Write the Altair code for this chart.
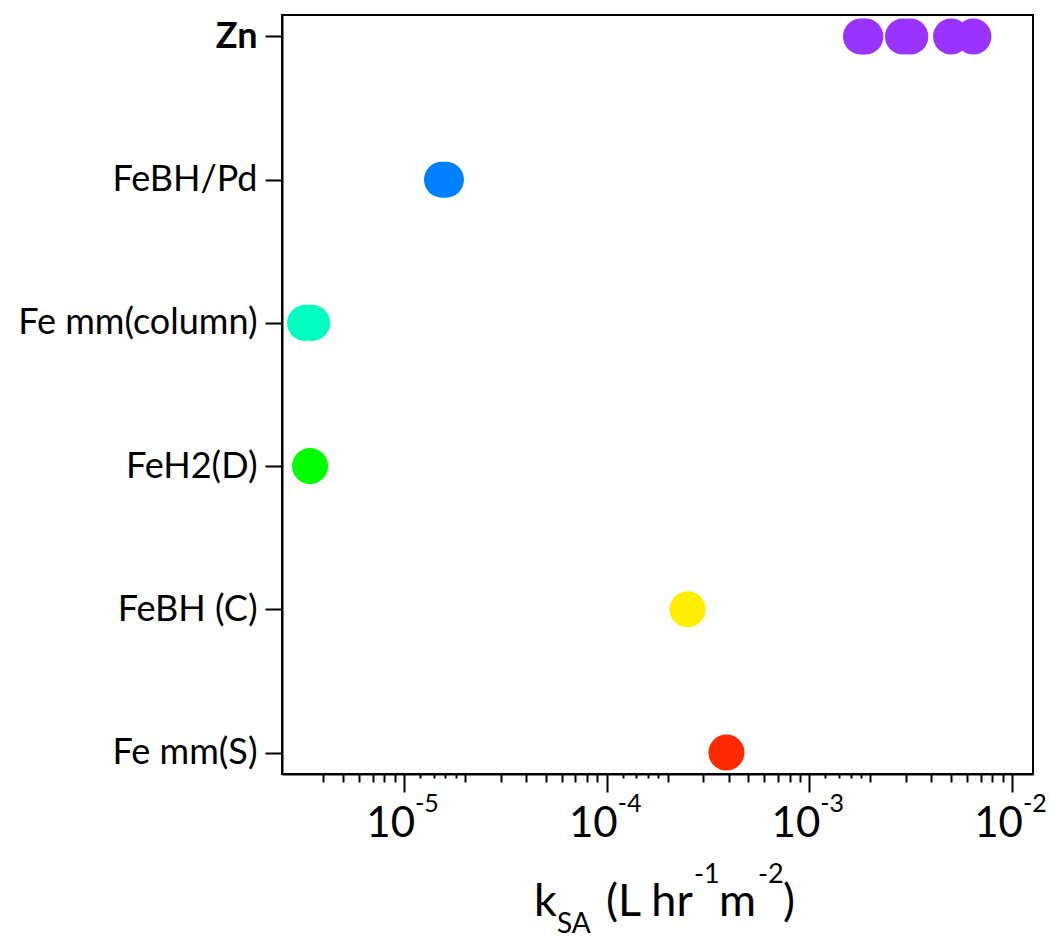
import altair as alt
import pandas as pd

# Materials, top to bottom, and their point colours
categories = ["Zn", "FeBH/Pd", "Fe mm(column)", "FeH2(D)", "FeBH (C)", "Fe mm(S)"]
colors = ["#9933FF", "#0080FF", "#00FFC0", "#00FF00", "#FFEE00", "#FF2A00"]

# Surface-area normalised rate constants k_SA (L hr^-1 m^-2)
zn_k = [1.80e-3, 1.89e-3, 2.90e-3, 3.15e-3, 5.01e-3, 6.45e-3]
febh_pd_k = [1.54e-5, 1.61e-5]
fe_mm_column_k = [3.25e-6, 3.52e-6]
feh2_d_k = [3.44e-6]
febh_c_k = [2.51e-4]
fe_mm_s_k = [3.90e-4]

# Decade tick labels (10^exp)
decades = [1e-5, 1e-4, 1e-3, 1e-2]
exponents = ["-5", "-4", "-3", "-2"]

# Log-axis tick marks: decades, integer multiples, and 1.2-1.8 sub-steps
tick_values = [4e-6, 5e-6, 6e-6, 7e-6, 8e-6, 9e-6]
for base in [1e-5, 1e-4, 1e-3]:
    for m in [1, 1.2, 1.4, 1.6, 1.8, 2, 3, 4, 5, 6, 7, 8, 9]:
        tick_values.append(round(m * base, 12))
tick_values.append(1e-2)

rows = []
for name, vals in zip(categories, [zn_k, febh_pd_k, fe_mm_column_k, feh2_d_k, febh_c_k, fe_mm_s_k]):
    for v in vals:
        rows.append({"material": name, "k": v})
df = pd.DataFrame(rows)

W, H = 751, 759
FONT = "Lato"

major_test = "abs(log(datum.value)/LN10 - round(log(datum.value)/LN10)) < 1e-6"
sub_test = ("abs(datum.value / pow(10, floor(log(datum.value)/LN10 + 1e-6)) - "
            "round(datum.value / pow(10, floor(log(datum.value)/LN10 + 1e-6)))) > 1e-3")

x_enc = alt.X(
    "k:Q",
    scale=alt.Scale(type="log", domain=[2.5e-6, 1.27e-2], nice=False),
    axis=alt.Axis(
        values=tick_values,
        labels=False,
        title=None,
        grid=False,
        domainColor="black",
        domainWidth=2,
        tickColor="black",
        tickWidth=2,
        tickSize={"condition": [{"test": major_test, "value": 18},
                                {"test": sub_test, "value": 4}],
                  "value": 8},
    ),
)

points = alt.Chart(df).mark_circle(size=1300, opacity=1).encode(
    x=x_enc,
    y=alt.Y(
        "material:N",
        sort=categories,
        scale=alt.Scale(type="point", padding=0.15),
        axis=alt.Axis(
            title=None,
            labelFont=FONT,
            labelFontSize=36,
            labelColor="black",
            labelLimit=500,
            labelFontWeight={"condition": {"test": "datum.value === 'Zn'", "value": "bold"},
                             "value": "normal"},
            labelPadding=8,
            tickSize=17,
            tickWidth=2,
            tickColor="black",
            domainColor="black",
            domainWidth=2,
            grid=False,
        ),
    ),
    color=alt.Color("material:N", scale=alt.Scale(domain=categories, range=colors), legend=None),
)

decade_df = pd.DataFrame({"k": decades, "base": ["10"] * len(decades), "exp": exponents})

base_labels = alt.Chart(decade_df).mark_text(
    align="right", baseline="alphabetic", dx=11, font=FONT, fontSize=42, color="black"
).encode(x=x_enc, y=alt.value(H + 63), text="base:N")

exp_labels = alt.Chart(decade_df).mark_text(
    align="left", baseline="alphabetic", dx=11, font=FONT, fontSize=25, color="black"
).encode(x=x_enc, y=alt.value(H + 38), text="exp:N")

# Axis title k_SA (L hr^-1 m^-2), set piece by piece for sub/superscripts
one = alt.Data(values=[{}])


def piece(txt, px, py, size):
    return alt.Chart(one).mark_text(
        text=txt, align="left", baseline="alphabetic", font=FONT, fontSize=size, color="black"
    ).encode(x=alt.value(px), y=alt.value(py))


title_parts = [
    piece("k", 252, 901, 45),
    piece("SA", 275, 918, 28),
    piece("(L hr", 324, 901, 45),
    piece("-1", 412, 868, 27),
    piece("m", 437, 901, 45),
    piece("-2", 476, 868, 27),
    piece(")", 501, 901, 45),
]

chart = alt.layer(points, base_labels, exp_labels, *title_parts).properties(
    width=W,
    height=H,
    padding={"left": 282, "top": 15, "right": 17, "bottom": 165},
    autosize=alt.AutoSizeParams(type="none"),
    background="white",
).configure_view(stroke="black", strokeWidth=2)

chart.save("out.html", embed_options={"renderer": "svg", "actions": False})
